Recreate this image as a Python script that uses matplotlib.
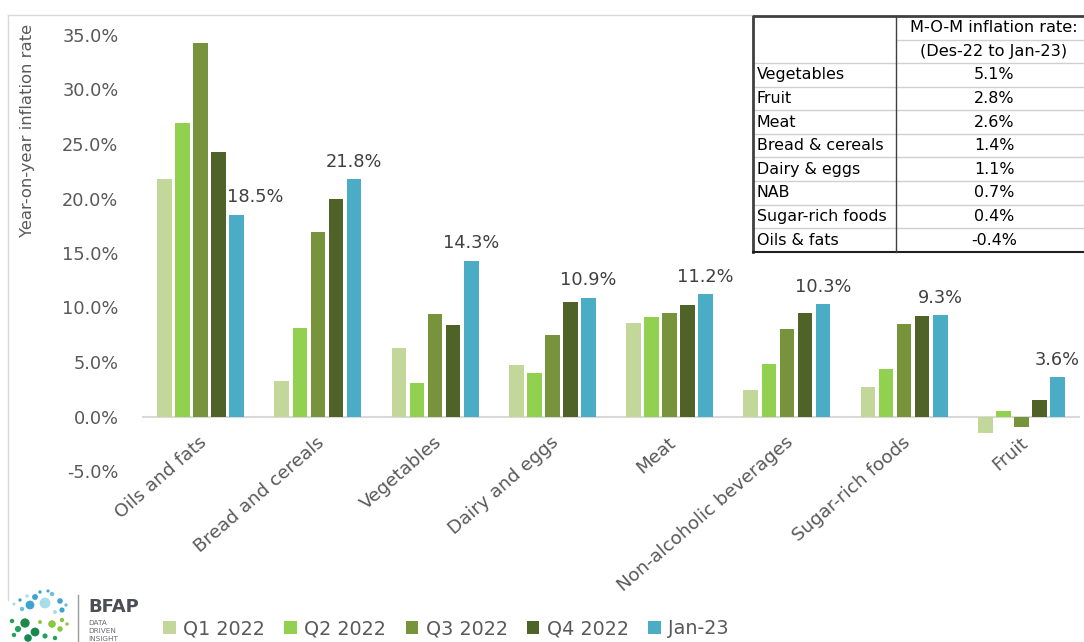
import matplotlib
matplotlib.use("Agg")
import matplotlib.pyplot as plt
from matplotlib.patches import Rectangle, Patch
from matplotlib.lines import Line2D
import numpy as np

# ---------------- data ----------------
categories = ["Oils and fats", "Bread and cereals", "Vegetables", "Dairy and eggs",
              "Meat", "Non-alcoholic beverages", "Sugar-rich foods", "Fruit"]
series_names = ["Q1 2022", "Q2 2022", "Q3 2022", "Q4 2022", "Jan-23"]
q1_2022 = [21.8, 3.3, 6.3, 4.7, 8.6, 2.4, 2.7, -1.5]
q2_2022 = [26.9, 8.1, 3.1, 4.0, 9.1, 4.8, 4.4, 0.5]
q3_2022 = [34.3, 16.9, 9.4, 7.5, 9.5, 8.0, 8.5, -1.0]
q4_2022 = [24.3, 20.0, 8.4, 10.5, 10.2, 9.5, 9.2, 1.5]
jan_23 = [18.5, 21.8, 14.3, 10.9, 11.2, 10.3, 9.3, 3.6]
yticks = [-5, 0, 5, 10, 15, 20, 25, 30, 35]

table_items = ["Vegetables", "Fruit", "Meat", "Bread & cereals", "Dairy & eggs",
               "NAB", "Sugar-rich foods", "Oils & fats"]
table_values = ["5.1%", "2.8%", "2.6%", "1.4%", "1.1%", "0.7%", "0.4%", "-0.4%"]
table_header = ["M-O-M inflation rate:", "(Des-22 to Jan-23)"]

colors = ["#C4D79B", "#92D050", "#77933C", "#4F6228", "#4BACC6"]

# ---------------- figure ----------------
W, H = 1084, 642
fig = plt.figure(figsize=(W / 100, H / 100), dpi=100)
fig.patch.set_facecolor("white")

def fx(px):
    return px / W

def fy(py):
    return 1 - py / H

ax = fig.add_axes([fx(142), fy(471), (1080 - 142) / W, (471 - 35) / H])
ax.set_facecolor("none")

all_series = [q1_2022, q2_2022, q3_2022, q4_2022, jan_23]
x = np.arange(len(categories))
step = 0.154
bw = 0.124
for i, (vals, c, name) in enumerate(zip(all_series, colors, series_names)):
    ax.bar(x + (i - 2) * step, vals, width=bw, color=c, label=name, zorder=3)

# data labels for Jan-23
label_dx = [0.16, 0, 0, 0, 0, 0, 0, 0]
for xi, v, dx in zip(x, jan_23, label_dx):
    ax.annotate(f"{v:.1f}%", xy=(xi + 2 * step + dx, v), xytext=(0, 12.5),
                textcoords="offset points", ha="center", va="center",
                fontsize=12.8, color="#404040")

ax.set_xlim(-0.5, len(categories) - 0.5)
ax.set_ylim(-5, 35)
ax.set_yticks(yticks)
ax.set_yticklabels([f"{t:.1f}%" for t in yticks], fontsize=12.8, color="#595959")
ax.tick_params(axis="y", length=0, pad=17)
ax.set_xticks([])
for s in ["top", "right", "left", "bottom"]:
    ax.spines[s].set_visible(False)
ax.axhline(0, color="#D9D9D9", lw=1.5, zorder=2)

# category labels
for xi, cat in zip(x, categories):
    ax.annotate(cat, xy=(xi, 0), xytext=(3, -17), textcoords="offset points",
                ha="right", va="center", rotation=41, rotation_mode="anchor",
                fontsize=13.2, color="#595959")

# y axis label
fig.text(fx(28), fy(130), "Year-on-year inflation rate", rotation=90,
         ha="center", va="center", fontsize=11.8, color="#595959")

# chart outer border (light gray)
fig.add_artist(Line2D([fx(8), fx(753)], [fy(15), fy(15)], color="#D9D9D9", lw=1))
fig.add_artist(Line2D([fx(8), fx(8)], [fy(15), fy(600)], color="#D9D9D9", lw=1))

# ---------------- table ----------------
t_left, t_div, t_right = 753, 896, 1088
t_top, h_bot = 16, 63
row_h = (252 - 63) / len(table_items)
t_bot = h_bot + row_h * len(table_items)
fig.add_artist(Rectangle((fx(t_left), fy(t_bot)), fx(t_right) - fx(t_left),
                         fy(t_top) - fy(t_bot), facecolor="white",
                         edgecolor="none", zorder=5))
# light inner lines
fig.add_artist(Line2D([fx(t_div), fx(t_right)], [fy(39.5), fy(39.5)],
                      color="#D0D0D0", lw=1, zorder=6))
for r in range(len(table_items)):
    yy = h_bot + r * row_h
    fig.add_artist(Line2D([fx(t_left), fx(t_right)], [fy(yy), fy(yy)],
                          color="#D0D0D0", lw=1, zorder=6))
# dark border
fig.add_artist(Line2D([fx(t_left), fx(t_left), fx(t_right)],
                      [fy(t_bot), fy(t_top), fy(t_top)], color="#404040", lw=2, zorder=7))
fig.add_artist(Line2D([fx(t_left), fx(t_right)], [fy(t_bot), fy(t_bot)],
                      color="#202020", lw=1.5, zorder=7))
fig.add_artist(Line2D([fx(t_div), fx(t_div)], [fy(t_top), fy(t_bot)],
                      color="#404040", lw=1, zorder=7))
col2_c = 994
fig.text(fx(col2_c), fy(28), table_header[0], ha="center", va="center",
         fontsize=11.6, color="black", zorder=8)
fig.text(fx(col2_c), fy(51.5), table_header[1], ha="center", va="center",
         fontsize=11.6, color="black", zorder=8)
for r, (item, val) in enumerate(zip(table_items, table_values)):
    yc = h_bot + (r + 0.5) * row_h
    fig.text(fx(757), fy(yc), item, ha="left", va="center", fontsize=11.4,
             color="black", zorder=8)
    fig.text(fx(col2_c), fy(yc), val, ha="center", va="center", fontsize=11.4,
             color="black", zorder=8)

# ---------------- legend ----------------
handles = [Patch(facecolor=c, edgecolor="none") for c in colors]
leg = fig.legend(handles, series_names, loc="center",
                 bbox_to_anchor=(fx(446), fy(629)), ncol=5, frameon=False,
                 fontsize=13.8, handlelength=0.65, handleheight=0.65,
                 handletextpad=0.4, columnspacing=1.0, borderaxespad=0)
for t in leg.get_texts():
    t.set_color("#595959")

# ---------------- logo (decorative) ----------------
logo_ax = fig.add_axes([0, 0, fx(150), (642 - 585) / H])
logo_ax.set_xlim(0, 150)
logo_ax.set_ylim(642, 585)
logo_ax.axis("off")
blue_dots = [(45, 603, 60, "#A6DDE8"), (30, 605, 40, "#3FA3D0"), (35, 597, 18, "#3FA3D0"),
             (52, 594, 10, "#6CBEDD"), (60, 601, 16, "#3FA3D0"), (62, 610, 14, "#3FA3D0"),
             (22, 609, 10, "#6CBEDD"), (20, 600, 6, "#3FA3D0"), (40, 592, 6, "#3FA3D0"),
             (55, 612, 8, "#A6DDE8"), (27, 596, 6, "#A6DDE8"), (48, 591, 5, "#3FA3D0"),
             (66, 605, 6, "#6CBEDD"), (14, 604, 5, "#A6DDE8")]
green_dots = [(25, 623, 45, "#1E8A4A"), (18, 629, 20, "#23A05A"), (35, 632, 40, "#17884E"),
              (52, 624, 30, "#8CC63F"), (60, 629, 16, "#8CC63F"), (45, 636, 14, "#23A05A"),
              (28, 638, 30, "#17884E"), (12, 621, 10, "#23A05A"), (62, 620, 10, "#8CC63F"),
              (14, 635, 10, "#23A05A"), (55, 638, 10, "#23A05A"), (40, 622, 8, "#8CC63F"),
              (67, 624, 6, "#8CC63F")]
for (px, py, s, c) in blue_dots + green_dots:
    logo_ax.scatter(px, py, s=s, color=c, edgecolors="none")
logo_ax.plot([78, 78], [595, 642], color="#9A9A9A", lw=1)
logo_ax.text(88, 607, "BFAP", fontsize=13, fontweight="bold", color="#4D4D55",
             ha="left", va="center")
for i, w in enumerate(["DATA", "DRIVEN", "INSIGHT"]):
    logo_ax.text(88, 623 + i * 8, w, fontsize=5.2, color="#6A6A70", ha="left", va="center")

fig.savefig("out.png", dpi=100, facecolor="white")
